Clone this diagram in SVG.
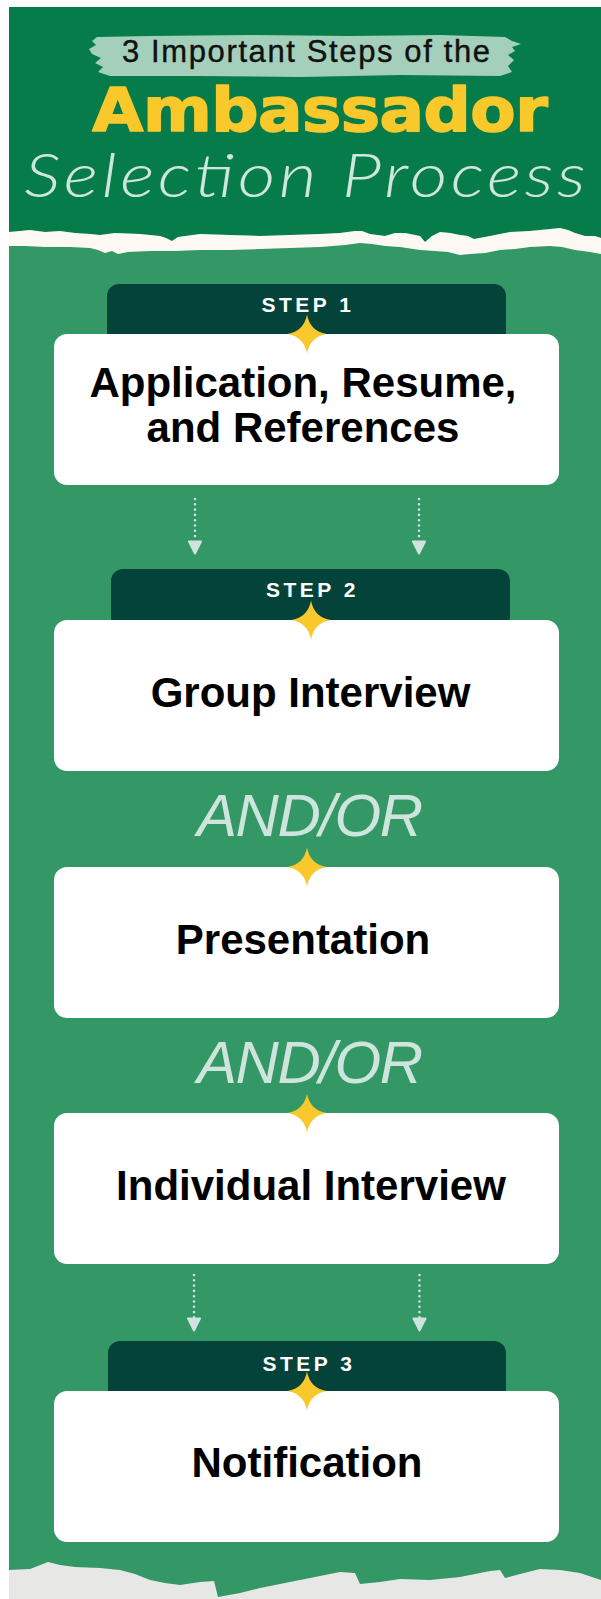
<svg xmlns="http://www.w3.org/2000/svg" width="601" height="1599" viewBox="0 0 601 1599">
<style>
.box{fill:#ffffff}
.tab{fill:#03433a}
.star{fill:#f9c82c}
.step{font-family:"Liberation Sans",Arial,sans-serif;font-weight:700;font-size:21px;letter-spacing:3.5px;fill:#ffffff;text-anchor:middle}
.main{font-family:"Liberation Sans",Arial,sans-serif;font-weight:700;font-size:42px;fill:#000000;text-anchor:middle}
.andor{font-family:"Liberation Sans",Arial,sans-serif;font-style:italic;font-size:60px;fill:#cde5dc;text-anchor:middle}
.dots{fill:none;stroke:#cfe3df;stroke-width:2.6;stroke-linecap:round;stroke-dasharray:0 5.3}
</style>
<defs>
<path id="spark" d="M0,-19.5 Q3,-3 19.5,0 Q3,3 0,19.5 Q-3,3 -19.5,0 Q-3,-3 0,-19.5 Z"/>
<marker id="ah" markerUnits="userSpaceOnUse" markerWidth="15" markerHeight="15" viewBox="0 0 15 15" refX="7.5" refY="1" orient="0">
<path d="M1.5,1.5 L13.5,1.5 L7.5,13.5 Z" fill="#cfe3df" stroke="#cfe3df" stroke-width="2" stroke-linejoin="round"/>
</marker>
</defs>
<rect width="601" height="1599" fill="#ffffff"/>
<g id="background">
<rect x="9" y="7" width="592" height="1592" fill="#339766"/>
<path d="M9,7 H601 V238 L595,236 L585,236 L575,233 L568,230 L560,228 L550,229 L530,231 L510,232 L490,236 L474,239 L468,236 L460,235 L450,233 L440,232 L432,236 L425,242 L420,236 L405,233 L395,233 L385,236 L370,234 L362,231 L355,231 L340,233 L320,234 L290,235 L260,236 L230,235 L200,234 L178,237 L172,241 L166,238 L160,236 L140,234 L115,233 L100,235 L90,234 L75,233 L60,231 L45,232 L30,230 L20,231 L9,232 Z" fill="#077c4b"/>
<path d="M9,232 L20,231 L30,230 L45,232 L60,231 L75,233 L90,234 L100,235 L115,233 L140,234 L160,236 L166,238 L172,241 L178,237 L200,234 L230,235 L260,236 L290,235 L320,234 L340,233 L355,231 L362,231 L370,234 L385,236 L395,233 L405,233 L420,236 L425,242 L432,236 L440,232 L450,233 L460,235 L468,236 L474,239 L490,236 L510,232 L530,231 L550,229 L560,228 L568,230 L575,233 L585,236 L595,236 L601,238 L601,254 L590,252 L575,250 L562,247 L550,246 L530,247 L515,249 L500,250 L485,253 L470,254 L460,255 L448,252 L435,251 L420,250 L400,247 L385,246 L372,244 L360,243 L345,245 L320,247 L290,248 L260,249 L230,250 L200,250 L175,251 L150,251 L128,252 L118,254 L112,251 L105,253 L98,250 L90,248 L70,247 L45,247 L25,246 L9,246 Z" fill="#fdf8f3"/>
<path d="M9,1570 L30,1569 L48,1562 L60,1565 L75,1567 L100,1568 L120,1570 L135,1574 L150,1580 L165,1583 L180,1585 L200,1582 L214,1581 L218,1597 L240,1593 L260,1588 L290,1582 L320,1576 L340,1572 L355,1573 L360,1584 L380,1582 L400,1579 L430,1580 L460,1577 L490,1571 L500,1570 L505,1578 L520,1574 L540,1569 L560,1570 L580,1573 L601,1580 V1599 H9 Z" fill="#e7e7e5"/>
</g>
<g id="title">
<path d="M97,37 L150,36 L250,35 L350,36 L440,35 L505,37 L512,41 L521,44 L512,47 L515,51 L508,55 L514,60 L508,66 L512,72 L500,76 L400,75 L300,77 L200,76 L110,76 L98,72 L103,67 L95,63 L101,58 L92,54 L89,49 L96,45 L92,41 Z" fill="#a4cfba"/>
<text x="306" y="62" font-family="'Liberation Sans',Arial,sans-serif" font-size="31" fill="#111111" stroke="#111111" stroke-width="0.4" textLength="368" lengthAdjust="spacing" text-anchor="middle">3 Important Steps of the</text>
<text transform="translate(320,131) scale(1.1,1)" x="0" y="0" font-family="'DejaVu Sans',Verdana,sans-serif" font-weight="700" font-size="60" fill="#f9c82b" stroke="#f9c82b" stroke-width="1.6" stroke-linejoin="round" textLength="414" lengthAdjust="spacing" text-anchor="middle">Ambassador</text>
<text transform="translate(305,197) scale(1.2,1)" x="0" y="0" font-family="Lato,Roboto,'Liberation Sans',sans-serif" font-weight="300" font-style="italic" font-size="61" fill="#cfe6dc" textLength="468" lengthAdjust="spacing" text-anchor="middle">Selection Process</text>
</g>
<g id="connectors">
<path class="dots" d="M195,499 V541" marker-end="url(#ah)"/>
<path class="dots" d="M419,499 V541" marker-end="url(#ah)"/>
<path class="dots" d="M194,1275 V1318" marker-end="url(#ah)"/>
<path class="dots" d="M419.5,1275 V1318" marker-end="url(#ah)"/>
</g>
<g id="step1">
<rect class="tab" x="107" y="284" width="399" height="60" rx="12"/>
<text class="step" x="308" y="312">STEP 1</text>
<rect class="box" x="54" y="334" width="505" height="151" rx="13"/>
<use href="#spark" class="star" x="307" y="334"/>
<text class="main" x="303" y="397" font-size="41.5">Application, Resume,</text>
<text class="main" x="303" y="442" font-size="41.5">and References</text>
</g>
<g id="step2">
<rect class="tab" x="111" y="569" width="399" height="60" rx="12"/>
<text class="step" x="312.5" y="597">STEP 2</text>
<rect class="box" x="54" y="620" width="505" height="151" rx="13"/>
<use href="#spark" class="star" x="311" y="620"/>
<text class="main" x="310.5" y="707">Group Interview</text>
</g>
<g id="andor1">
<text class="andor" x="310" y="836" textLength="226" lengthAdjust="spacing">AND/OR</text>
</g>
<g id="presentation">
<rect class="box" x="54" y="867" width="505" height="151" rx="13"/>
<use href="#spark" class="star" x="307" y="867"/>
<text class="main" x="303" y="954">Presentation</text>
</g>
<g id="andor2">
<text class="andor" x="310" y="1083" textLength="226" lengthAdjust="spacing">AND/OR</text>
</g>
<g id="individual">
<rect class="box" x="54" y="1113" width="505" height="151" rx="13"/>
<use href="#spark" class="star" x="307" y="1113"/>
<text class="main" x="311" y="1200">Individual Interview</text>
</g>
<g id="step3">
<rect class="tab" x="108" y="1341" width="398" height="60" rx="12"/>
<text class="step" x="309" y="1371">STEP 3</text>
<rect class="box" x="54" y="1391" width="505" height="151" rx="13"/>
<use href="#spark" class="star" x="307" y="1391"/>
<text class="main" x="307" y="1477">Notification</text>
</g>
</svg>
